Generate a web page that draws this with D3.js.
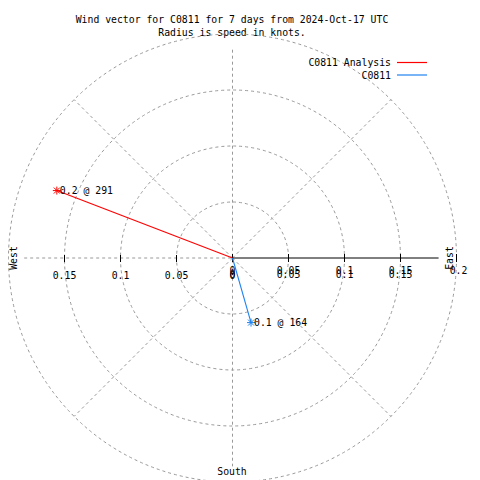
<!DOCTYPE html>
<html>
<head>
<meta charset="utf-8">
<script src="https://cdn.jsdelivr.net/npm/d3@7"></script>
<style>
  html, body { margin: 0; padding: 0; background: #fff; }
  svg { display: block; }
  text { font-family: "DejaVu Sans Mono", "Liberation Mono", monospace; font-size: 9.8px; fill: #000; }
</style>
</head>
<body>
<script>
// ---- data ----
const titleLines = ["Wind vector for C0811 for 7 days from 2024-Oct-17 UTC", "Radius is speed in knots."];
const seriesNames = ["C0811 Analysis", "C0811"];
const seriesColors = ["#ff0000", "#1e82f0"];
const speeds = [0.168, 0.060];      // knots
const directions = [291, 164];      // degrees clockwise from north
const rings = [0.05, 0.1, 0.15, 0.2];
const spokeAngles = [45, 135, 225, 315];
const westTicks = [0, 0.05, 0.1, 0.15];
const eastTicks = [0, 0.05, 0.1, 0.15, 0.2];
const eastTicksShifted = [0, 0.05, 0.1, 0.15];

const W = 480, H = 480;
const cx = 232.5, cy = 258;
const r = d3.scaleLinear().domain([0, 0.2]).range([0, 224]);
const axisExtent = 0.186;
const grey = "#999999";

const svg = d3.select("body").append("svg").attr("width", W).attr("height", H);

// title
svg.append("g").selectAll("text").data(titleLines).join("text")
  .attr("x", 232).attr("y", (d, i) => 23 + i * 13)
  .attr("text-anchor", "middle").text(d => d);

const g = svg.append("g").attr("transform", `translate(${cx},${cy})`);

// rings
g.selectAll("circle.ring").data(rings).join("circle")
  .attr("class", "ring").attr("r", d => r(d))
  .attr("fill", "none").attr("stroke", grey).attr("stroke-dasharray", "3,3");

// diagonal spokes
const toXY = (speed, deg) => {
  const a = deg * Math.PI / 180;
  return [r(speed) * Math.sin(a), -r(speed) * Math.cos(a)];
};
g.selectAll("line.spoke").data(spokeAngles).join("line")
  .attr("class", "spoke")
  .attr("x1", 0).attr("y1", 0)
  .attr("x2", d => toXY(0.2, d)[0]).attr("y2", d => toXY(0.2, d)[1])
  .attr("stroke", grey).attr("stroke-dasharray", "3,3");

// vertical dashed (north-south) and west dashed
g.append("line").attr("x1", 0).attr("x2", 0)
  .attr("y1", -r(axisExtent)).attr("y2", r(axisExtent))
  .attr("stroke", grey).attr("stroke-dasharray", "3,3");
g.append("line").attr("x1", -r(axisExtent)).attr("x2", 0)
  .attr("y1", 0).attr("y2", 0)
  .attr("stroke", grey).attr("stroke-dasharray", "3,3");

// east solid axis
g.append("line").attr("x1", 0).attr("x2", r(0.184)).attr("y1", 0).attr("y2", 0)
  .attr("stroke", "#000");

// ticks
g.selectAll("line.wtick").data(westTicks).join("line")
  .attr("class", "wtick")
  .attr("x1", d => -r(d)).attr("x2", d => -r(d)).attr("y1", -3).attr("y2", 4)
  .attr("stroke", "#000");
g.selectAll("line.etick").data(eastTicks).join("line")
  .attr("class", "etick")
  .attr("x1", d => r(d)).attr("x2", d => r(d)).attr("y1", -4).attr("y2", 4)
  .attr("stroke", "#000");

// tick labels (east side labels are drawn twice, slightly offset, as in the original)
const fmt = d => d === 0 ? "0" : String(+d.toFixed(2));
g.selectAll("text.wlab").data(westTicks).join("text")
  .attr("class", "wlab").attr("text-anchor", "middle")
  .attr("x", d => -r(d)).attr("y", 21).text(fmt);
g.selectAll("text.elab").data(eastTicks).join("text")
  .attr("class", "elab").attr("text-anchor", "middle")
  .attr("x", d => r(d) + (d === 0.2 ? 2 : 0)).attr("y", 16).text(fmt);
g.selectAll("text.elab2").data(eastTicksShifted).join("text")
  .attr("class", "elab2").attr("text-anchor", "middle")
  .attr("x", d => r(d)).attr("y", 20).text(fmt);

// direction labels
svg.append("text").attr("transform", `translate(17,${cy}) rotate(-90)`)
  .attr("text-anchor", "middle").text("West");
svg.append("text").attr("transform", `translate(453,${cy}) rotate(-90)`)
  .attr("text-anchor", "middle").text("East");
svg.append("text").attr("x", 232).attr("y", 475)
  .attr("text-anchor", "middle").text("South");

// vectors
const vec = g.selectAll("g.vec").data(speeds.map((s, i) => ({s, d: directions[i], c: seriesColors[i]})))
  .join("g").attr("class", "vec");
vec.append("line")
  .attr("x1", 0).attr("y1", 0)
  .attr("x2", d => toXY(d.s, d.d)[0]).attr("y2", d => toXY(d.s, d.d)[1])
  .attr("stroke", d => d.c).attr("stroke-width", 1.1);
const star = "M-4,0L4,0M0,-4L0,4M-3,-3L3,3M-3,3L3,-3";
vec.append("path")
  .attr("transform", d => `translate(${toXY(d.s, d.d)[0]},${toXY(d.s, d.d)[1]})`)
  .attr("d", star).attr("stroke", d => d.c).attr("fill", "none");
vec.append("text")
  .attr("x", d => toXY(d.s, d.d)[0] + 3).attr("y", d => toXY(d.s, d.d)[1] + 3.5)
  .text(d => `${d.s.toFixed(1)} @ ${d.d}`);

// legend
const leg = svg.append("g").selectAll("g").data(seriesNames).join("g")
  .attr("transform", (d, i) => `translate(0,${62.5 + i * 12.5})`);
leg.append("text").attr("x", 391).attr("y", 3.5).attr("text-anchor", "end").text(d => d);
leg.append("line").attr("x1", 397).attr("x2", 427).attr("y1", 0).attr("y2", 0)
  .attr("stroke", (d, i) => seriesColors[i]).attr("stroke-width", 1.2);
</script>
</body>
</html>
